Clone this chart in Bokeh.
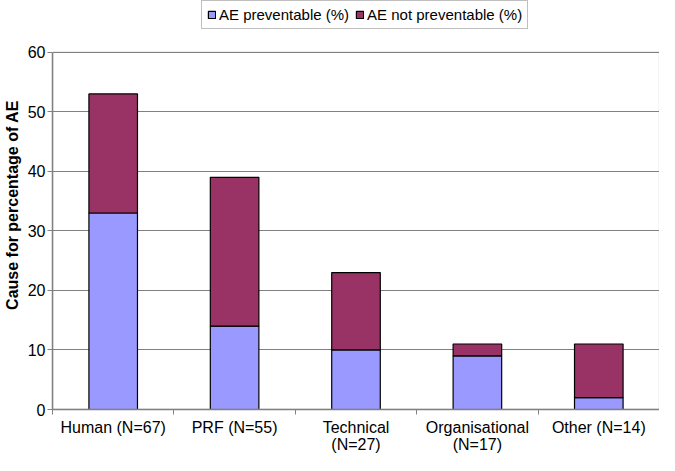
from bokeh.plotting import figure
from bokeh.models import FixedTicker, Legend, LegendItem, Range1d, ColumnDataSource, BoxAnnotation
from bokeh.embed import file_html
from bokeh.resources import INLINE

categories = ["Human (N=67)", "PRF (N=55)", "Technical\n(N=27)", "Organisational\n(N=17)", "Other (N=14)"]
preventable = [33, 14, 10, 9, 2]
not_preventable = [20, 25, 13, 2, 9]
y_ticks = [0, 10, 20, 30, 40, 50, 60]
y_max = 60
series_labels = ["AE preventable (%)", "AE not preventable (%)"]
colors = ["#9999FF", "#993366"]

x = [i + 0.5 for i in range(len(categories))]
source = ColumnDataSource(dict(x=x, prev=preventable, notprev=not_preventable))

FONT = "Liberation Sans"
GREY = "#808080"

W, H = 659, 455
BOTTOM = 44
PLOT_TOP_PX = 52           # pixel row of the top of the value axis
frame_h = H - BOTTOM
y_end = y_max * frame_h / (frame_h - PLOT_TOP_PX)

p = figure(width=W, height=H, x_range=Range1d(0, len(categories)), y_range=Range1d(0, y_end),
           output_backend="svg", toolbar_location=None,
           min_border_left=44, min_border_right=0, min_border_top=0, min_border_bottom=BOTTOM)

rs = p.vbar_stack(["prev", "notprev"], x="x", width=0.4, source=source,
                  fill_color=colors, line_color="black", line_width=1.2)

p.add_layout(BoxAnnotation(left=0, right=len(categories), bottom=0, top=y_max,
                           fill_alpha=0, line_color=GREY, line_width=1.5))

legend = Legend(items=[LegendItem(label=series_labels[0], renderers=[rs[0]]),
                       LegendItem(label=series_labels[1], renderers=[rs[1]])],
                orientation="horizontal", location=(149, frame_h - 31),
                glyph_width=9, glyph_height=9, label_standoff=3, spacing=6,
                padding=5, margin=0,
                label_text_font=FONT, label_text_font_size="15px", label_text_color="black",
                border_line_color=GREY, border_line_width=1.2,
                background_fill_color="white", background_fill_alpha=1)
p.add_layout(legend)

p.outline_line_color = None
p.background_fill_color = "white"
p.border_fill_color = "white"

p.xgrid.visible = False
p.ygrid.ticker = FixedTicker(ticks=y_ticks)
p.ygrid.grid_line_color = GREY
p.ygrid.grid_line_width = 1

xa = p.xaxis[0]
xa.ticker = FixedTicker(ticks=x, minor_ticks=list(range(len(categories) + 1)))
xa.major_label_overrides = {xv: c for xv, c in zip(x, categories)}
xa.major_tick_line_color = None
xa.major_tick_out = 0
xa.major_tick_in = 0
xa.minor_tick_line_color = GREY
xa.minor_tick_out = 5
xa.minor_tick_in = 0
xa.axis_line_color = GREY
xa.axis_line_width = 1.5
xa.major_label_standoff = 4
xa.major_label_text_font = FONT
xa.major_label_text_font_size = "16px"
xa.major_label_text_line_height = 1.0
xa.major_label_text_color = "black"

ya = p.yaxis[0]
ya.ticker = FixedTicker(ticks=y_ticks)
ya.bounds = (0, y_max)
ya.minor_tick_line_color = None
ya.major_tick_line_color = GREY
ya.major_tick_out = 5
ya.major_tick_in = 0
ya.axis_line_color = GREY
ya.axis_line_width = 1.5
ya.major_label_standoff = 2
ya.major_label_text_font = FONT
ya.major_label_text_font_size = "16px"
ya.major_label_text_color = "black"
ya.axis_label = "Cause for percentage of AE"
ya.axis_label_text_font = FONT
ya.axis_label_text_font_size = "16px"
ya.axis_label_text_font_style = "bold"
ya.axis_label_text_color = "black"
ya.axis_label_standoff = 4

open("out.html", "w").write(file_html(p, INLINE))
